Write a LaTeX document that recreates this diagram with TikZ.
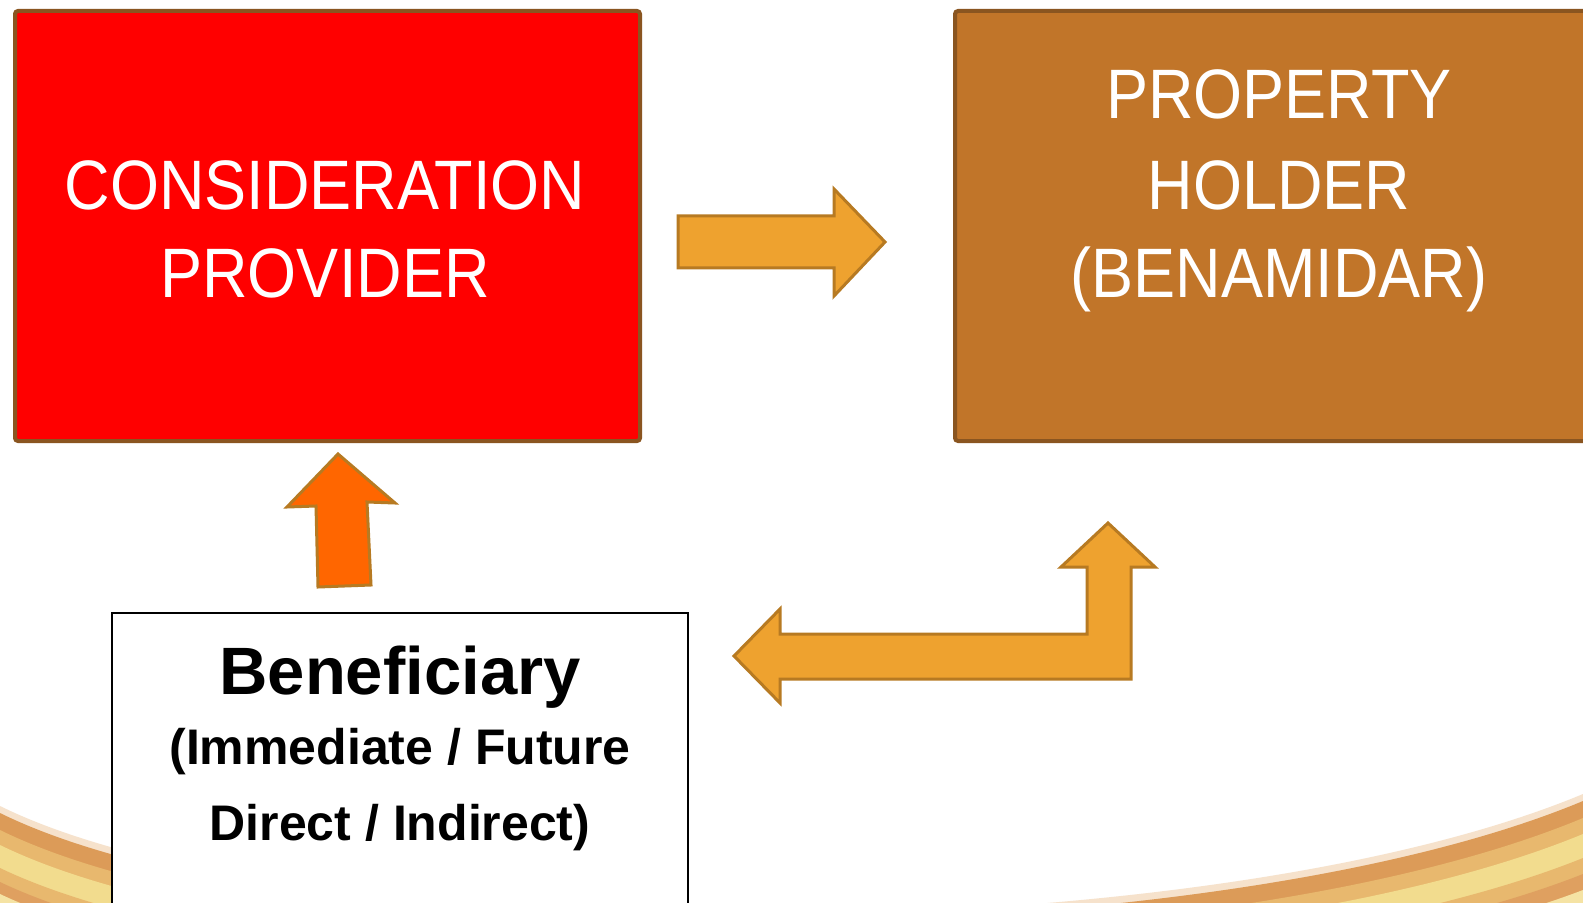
\documentclass[tikz,border=0pt]{standalone}
\usepackage{fontspec}
\setmainfont{Liberation Sans}
\newfontfamily\condfont[FakeStretch=0.9]{Liberation Sans}
\definecolor{boxred}{HTML}{FF0000}
\definecolor{boxbrown}{HTML}{C17529}
\definecolor{rimbrown}{HTML}{8A5520}
\definecolor{arrowfill}{HTML}{EEA22F}
\definecolor{arrowrim}{HTML}{B77A22}
\definecolor{uporange}{HTML}{FF6600}
\definecolor{swooshedge}{HTML}{F6E2CC}
\definecolor{swooshtan}{HTML}{DC9B58}
\definecolor{swooshmid}{HTML}{E8B86E}
\definecolor{swooshgold}{HTML}{F2DC8E}
\definecolor{swooshdeep}{HTML}{DFA060}
\tikzset{
  partybox/.style={draw=rimbrown, line width=2pt, rounded corners=1.5pt},
  whitehead/.style={text=white, anchor=base, inner sep=0pt,
    font=\condfont\fontsize{35pt}{44pt}\selectfont},
  benhead/.style={text=black, anchor=base, inner sep=0pt,
    font=\bfseries\fontsize{33.5pt}{40pt}\selectfont},
  bensub/.style={text=black, anchor=base, inner sep=0pt,
    font=\bfseries\fontsize{25pt}{30pt}\selectfont},
  blockarrow/.style={draw=arrowrim, line width=1.5pt, line join=miter, fill=arrowfill},
}
\begin{document}
\begin{tikzpicture}[x=0.5pt, y=-0.5pt]
  \useasboundingbox (0,0) rectangle (1583,903);
  \clip (0,0) rectangle (1583,903);
  \fill[white] (0,0) rectangle (1583,903);

  % golden swoosh along the lower edge, built from soft bands
  \fill[swooshedge] (0,806) .. controls (300,954) and (1200,954) .. (1583,794)
    -- (1583,1000) -- (0,1000) -- cycle;
  \fill[swooshtan] (0,813) .. controls (300,961) and (1200,961) .. (1583,801)
    -- (1583,1000) -- (0,1000) -- cycle;
  \fill[swooshmid] (0,830) .. controls (300,978) and (1200,978) .. (1583,818)
    -- (1583,1000) -- (0,1000) -- cycle;
  \fill[swooshgold] (0,845) .. controls (300,992) and (1200,992) .. (1583,834)
    -- (1583,1000) -- (0,1000) -- cycle;
  \fill[swooshmid] (0,868) .. controls (300,1012) and (1200,1012) .. (1583,858)
    -- (1583,1000) -- (0,1000) -- cycle;
  \fill[swooshdeep] (0,882) .. controls (300,1025) and (1200,1025) .. (1583,874)
    -- (1583,1000) -- (0,1000) -- cycle;
  \fill[swooshgold!80!white] (0,894) .. controls (300,1036) and (1200,1036) .. (1583,890)
    -- (1583,1000) -- (0,1000) -- cycle;

  % the three parties
  \node[partybox, fill=boxred, inner sep=0pt, anchor=north west,
        minimum width=312.5pt, minimum height=215pt]
        (provider) at (13,9) {};
  \node[partybox, fill=boxbrown, inner sep=0pt, anchor=north west,
        minimum width=325pt, minimum height=215pt]
        (holder) at (953,9) {};
  \node[draw=black, line width=1pt, fill=white, inner sep=0pt, anchor=north west,
        minimum width=288pt, minimum height=160pt]
        (beneficiary) at (111,612) {};

  % labels
  \node[whitehead] (provA) at (325,210) {CONSIDERATION};
  \node[whitehead] (provB) at (325,298) {PROVIDER};
  \node[whitehead] (holdA) at (1279,119) {PROPERTY};
  \node[whitehead] (holdB) at (1279,210) {HOLDER};
  \node[whitehead] (holdC) at (1279,298) {(BENAMIDAR)};
  \node[benhead] (benA) at (400,694) {Beneficiary};
  \node[bensub] (benB) at (400,764) {(Immediate / Future};
  \node[bensub] (benC) at (400,840) {Direct / Indirect)};

  % provider to holder
  \draw[blockarrow] (678,216) -- (834,216) -- (834,189) -- (885,242)
    -- (834,296) -- (834,268) -- (678,268) -- cycle;
  % beneficiary to provider
  \draw[blockarrow, fill=uporange] (338,454) -- (287,507) -- (316,506)
    -- (318,587) -- (371,585) -- (367,502) -- (395,503) -- cycle;
  % beneficiary and holder, both ways
  \draw[blockarrow] (734,656) -- (780,609) -- (780,634) -- (1087,634)
    -- (1087,567) -- (1061,567) -- (1108,523) -- (1155,567) -- (1131,567)
    -- (1131,679) -- (780,679) -- (780,703) -- cycle;
\end{tikzpicture}
\end{document}
